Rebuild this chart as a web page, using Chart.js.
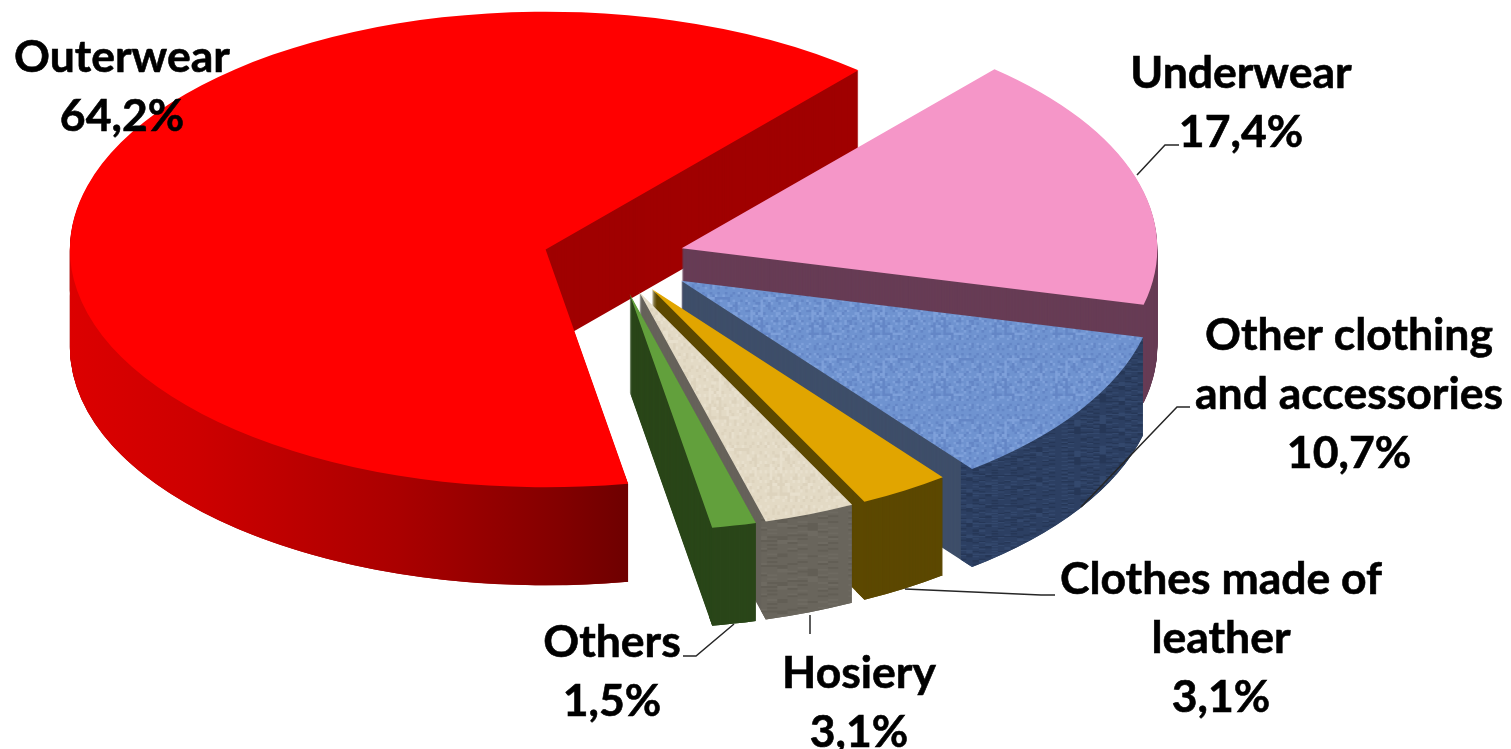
<!DOCTYPE html>
<html>
<head>
<meta charset="utf-8">
<title>Clothing market shares</title>
<script src="https://cdn.jsdelivr.net/npm/chart.js@4"></script>
<style>
  html, body { margin: 0; padding: 0; background: #fff; }
  #pie { display: block; }
</style>
</head>
<body>
<canvas id="pie" width="1511" height="749"></canvas>
<script>
(function () {
  'use strict';

  var categories = ["Outerwear", "Underwear", "Other clothing and accessories", "Clothes made of leather", "Hosiery", "Others"];
  var shares = [64.2, 17.4, 10.7, 3.1, 3.1, 1.5];
  var labelLines = [["Outerwear"], ["Underwear"], ["Other clothing", "and accessories"], ["Clothes made of", "leather"], ["Hosiery"], ["Others"]];

  var topColors = ["#ff0000", "#f596c8", "#6f93d0", "#e1a500", "#e2d9c3", "#62a03c"];
  var sideColors = ["#a00000", "#673c55", "#3e4e69", "#5c4800", "#66625a", "#2a4619"];
  var rimColors = [null, "#673c55", "#2a3c5e", "#5c4800", "#66625a", "#2a4619"];
  var explode = [55.9, 55.9, 63, 55.9, 55.9, 55.9];

  // first-line baseline of every label, and the leader drawn to its slice
  var labelSpots = [[122, 72], [1241, 88], [1349, 350], [1221, 594], [859, 688], [612, 657]];
  var leaders = [
    null,
    [[1137, 175], [1165, 145], [1179, 145]],
    [[1081, 507], [1177, 407], [1190, 407]],
    [[905, 589], [1041, 595], [1055, 595]],
    [[810, 615], [810, 634]],
    [[734, 624], [696, 656], [683, 656]]
  ];

  // flat chart -> tilted, exploded look
  var CENTER_X = 614, CENTER_Y = 259;
  var SCALE_X = 1.27, SCALE_Y = 0.635;
  var DEPTH = 98;

  function tile(base, spot, glint, w, h) {
    var c = document.createElement('canvas');
    c.width = w * 24;
    c.height = h * 24;
    var t = c.getContext('2d');
    t.fillStyle = base;
    t.fillRect(0, 0, c.width, c.height);
    for (var i = 0; i < 24; i++) {
      for (var j = 0; j < 24; j++) {
        var n = ((i * 7919 + j * 104729 + i * j * 131) >>> 0) % 97;
        if (n < 22) {
          t.fillStyle = spot;
          t.fillRect(i * w, j * h, w, h);
        } else if (n > 76) {
          t.fillStyle = glint;
          t.fillRect(i * w, j * h, w, h);
        }
      }
    }
    return c;
  }

  function face(arc, color, rim) {
    var opts = { backgroundColor: color, borderColor: color, borderWidth: 0, borderRadius: 0, borderAlign: 'center', offset: 0, spacing: 0, circular: true };
    var props = { options: { value: opts } };
    if (rim) {
      // only the part of the outer wall that faces the viewer
      var from = arc.startAngle, to = arc.endAngle;
      var base = from >= Math.PI ? 2 * Math.PI : 0;
      from = Math.max(from, base);
      to = Math.min(to, base + Math.PI);
      if (to <= from) return null;
      props.innerRadius = { value: arc.outerRadius * 0.96 };
      props.startAngle = { value: from };
      props.endAngle = { value: to };
      props.circumference = { value: to - from };
    }
    return Object.create(arc, props);
  }

  function place(ctx, arc, i, drop) {
    var mid = (arc.startAngle + arc.endAngle) / 2;
    ctx.setTransform(1, 0, 0, 1, 0, 0);
    ctx.translate(CENTER_X, CENTER_Y + drop);
    ctx.scale(SCALE_X, SCALE_Y);
    ctx.translate(Math.cos(mid) * explode[i] - arc.x, Math.sin(mid) * explode[i] - arc.y);
  }

  function redRim(ctx, arc, i) {
    var mid = (arc.startAngle + arc.endAngle) / 2;
    var shift = arc.x - Math.cos(mid) * explode[i];
    var g = ctx.createLinearGradient((70 - CENTER_X) / SCALE_X + shift, 0, (628 - CENTER_X) / SCALE_X + shift, 0);
    g.addColorStop(0, '#dc0000');
    g.addColorStop(0.23, '#cd0000');
    g.addColorStop(0.59, '#aa0000');
    g.addColorStop(0.87, '#840000');
    g.addColorStop(1, '#6e0000');
    return g;
  }

  var extrudedPie = {
    id: 'extrudedPie',
    beforeDatasetsDraw: function (chart) {
      var ctx = chart.ctx;
      var arcs = chart.getDatasetMeta(0).data;
      var blueTop = ctx.createPattern(tile('#6f93d0', '#6486c6', '#7ea0da', 2, 4), 'repeat');
      var blueRim = ctx.createPattern(tile('#2c3f62', '#263757', '#33486d', 5, 2), 'repeat');
      var beigeTop = ctx.createPattern(tile('#e3dac5', '#ddd3bd', '#e8e0cd', 2, 5), 'repeat');
      var greyRim = ctx.createPattern(tile('#69655c', '#625e55', '#6e6a61', 8, 3), 'repeat');

      ctx.save();
      arcs.forEach(function (arc, i) {
        var rim = rimColors[i];
        if (i === 0) rim = redRim(ctx, arc, i);
        if (i === 2) rim = blueRim;
        if (i === 4) rim = greyRim;
        var top = topColors[i];
        if (i === 2) top = blueTop;
        if (i === 4) top = beigeTop;

        var k;
        for (k = DEPTH; k > 0; k--) {
          place(ctx, arc, i, k);
          face(arc, sideColors[i]).draw(ctx);
        }
        var ring = face(arc, rim, true);
        if (ring) {
          for (k = DEPTH; k > 0; k--) {
            // keep the texture still while the ring steps down the wall
            if (rim.setTransform) rim.setTransform(new DOMMatrix().translate(0, -k / SCALE_Y));
            place(ctx, arc, i, k);
            ring.draw(ctx);
          }
        }
        place(ctx, arc, i, 0);
        face(arc, top).draw(ctx);
      });
      ctx.restore();
      return false;
    }
  };

  var shareLabels = {
    id: 'shareLabels',
    afterDraw: function (chart) {
      var ctx = chart.ctx;
      ctx.save();
      ctx.setTransform(1, 0, 0, 1, 0, 0);

      ctx.strokeStyle = '#262626';
      ctx.lineWidth = 1.5;
      leaders.forEach(function (pts) {
        if (!pts) return;
        ctx.beginPath();
        pts.forEach(function (p, n) {
          if (n === 0) ctx.moveTo(p[0], p[1]); else ctx.lineTo(p[0], p[1]);
        });
        ctx.stroke();
      });

      ctx.fillStyle = '#000';
      ctx.strokeStyle = '#000';
      ctx.lineWidth = 0.6;
      ctx.font = 'bold 44.5px Lato';
      ctx.textAlign = 'center';
      ctx.textBaseline = 'alphabetic';
      labelLines.forEach(function (lines, i) {
        var x = labelSpots[i][0], y = labelSpots[i][1];
        var rows = lines.concat([shares[i].toFixed(1).replace('.', ',') + '%']);
        rows.forEach(function (row, n) {
          ctx.fillText(row, x, y + n * 59);
          ctx.strokeText(row, x, y + n * 59);
        });
      });
      ctx.restore();
    }
  };

  new Chart(document.getElementById('pie'), {
    type: 'pie',
    data: {
      labels: categories,
      datasets: [{ data: shares, backgroundColor: topColors, borderWidth: 0 }]
    },
    options: {
      responsive: false,
      animation: false,
      rotation: 170,
      layout: { padding: 0 },
      events: [],
      plugins: { legend: { display: false }, tooltip: { enabled: false } }
    },
    plugins: [extrudedPie, shareLabels]
  });
})();
</script>
</body>
</html>
